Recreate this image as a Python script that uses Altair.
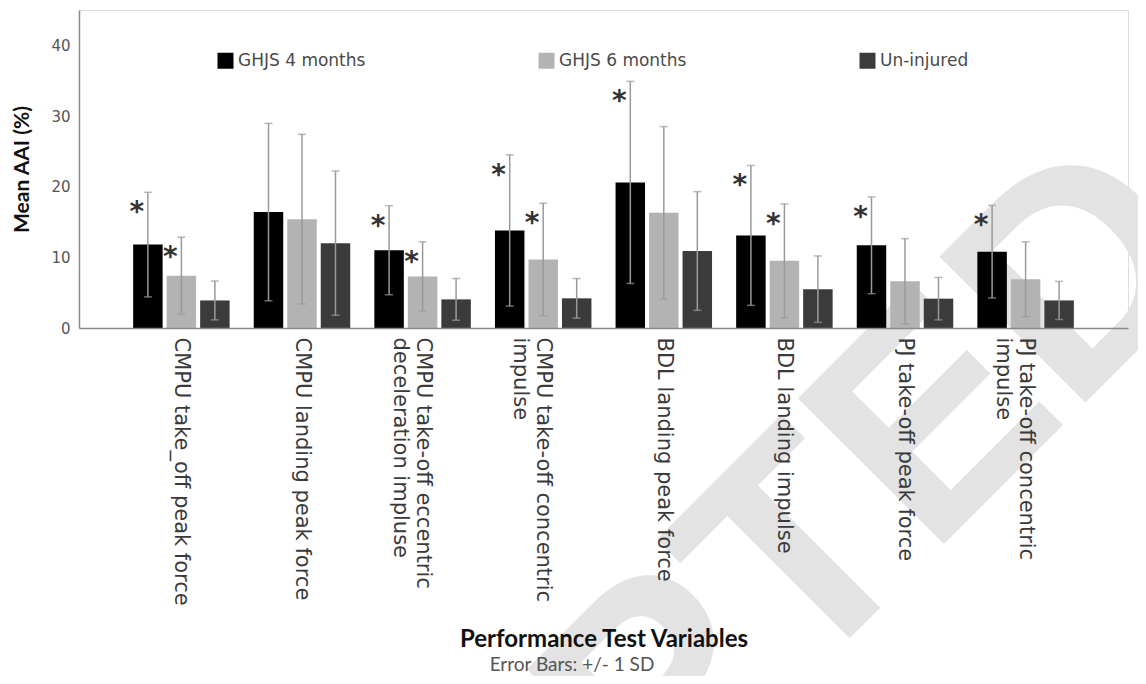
import altair as alt
import pandas as pd

categories = [
    "CMPU take_off peak force",
    "CMPU landing peak force",
    "CMPU take-off eccentric\ndeceleration impluse",
    "CMPU take-off concentric\nimpulse",
    "BDL landing peak force",
    "BDL landing impulse",
    "PJ take-off peak force",
    "PJ take-off concentric\nimpulse",
]
groups = ["GHJS 4 months", "GHJS 6 months", "Un-injured"]
colors = ["#000000", "#b3b3b3", "#3b3b3b"]

mean_4m = [11.8, 16.4, 11.0, 13.8, 20.6, 13.1, 11.7, 10.8]
sd_4m = [7.4, 12.55, 6.3, 10.7, 14.3, 9.9, 6.85, 6.55]
mean_6m = [7.4, 15.4, 7.3, 9.7, 16.3, 9.5, 6.6, 6.9]
sd_6m = [5.45, 12.0, 4.9, 7.95, 12.2, 8.05, 6.05, 5.3]
mean_un = [3.9, 12.0, 4.05, 4.2, 10.9, 5.5, 4.15, 3.9]
sd_un = [2.75, 10.2, 2.95, 2.8, 8.4, 4.7, 3.0, 2.7]

star_4m = [True, False, True, True, True, True, True, True]
star_6m = [True, False, True, True, False, True, False, False]
star_un = [False, False, False, False, False, False, False, False]

rows = []
for g, means, sds, stars in zip(groups, [mean_4m, mean_6m, mean_un],
                                [sd_4m, sd_6m, sd_un], [star_4m, star_6m, star_un]):
    for c, m, s, st in zip(categories, means, sds, stars):
        rows.append({"cat": c, "group": g, "mean": m, "lo": m - s, "hi": m + s,
                     "star": "*" if st else ""})
df = pd.DataFrame(rows)

x_enc = alt.X(
    "cat:N", sort=categories,
    scale=alt.Scale(paddingInner=0.2, paddingOuter=0.449),
    axis=alt.Axis(
        labelAngle=90, labelAlign="left", labelBaseline="middle", labelPadding=9,
        labelFont="DejaVu Sans", labelFontSize=21, labelColor="#3a3a3a",
        labelLimit=600, labelLineHeight=23, labelOverlap=False,
        labelExpr="split(datum.label, '\\n')",
        ticks=False, domainColor="#8a8a8a", domainWidth=1.5,
        title="Performance Test Variables", titleFont="Lato", titleFontSize=24,
        titleFontWeight="bold", titleColor="#111111", titleX=524.5, titleY=311,
        titleAlign="center", titleBaseline="middle", zindex=1,
    ),
)
xoff_enc = alt.XOffset("group:N", sort=groups,
                       scale=alt.Scale(paddingInner=0.12, paddingOuter=0))
y_scale = alt.Scale(domain=[0, 45], nice=False)
y_axis = alt.Axis(
    values=[0, 10, 20, 30, 40], grid=False, ticks=False, labelPadding=9,
    labelFont="DejaVu Sans", labelFontSize=15, labelColor="#555555",
    domainColor="#8a8a8a", domainWidth=1.5,
    title="Mean AAI (%)", titleFont="Lato", titleFontSize=21, titleFontWeight="bold",
    titleColor="#111111", titleX=-57, titleY=159, titleAngle=270,
    titleAlign="center", titleBaseline="middle", zindex=1,
)

base = alt.Chart(df)

bars = base.mark_bar().encode(
    x=x_enc, xOffset=xoff_enc,
    y=alt.Y("mean:Q", scale=y_scale, axis=y_axis),
    color=alt.Color(
        "group:N", sort=groups, scale=alt.Scale(domain=groups, range=colors),
        legend=alt.Legend(
            orient="none", legendX=138, legendY=42, direction="horizontal", title=None,
            symbolType="square", symbolSize=256, symbolStrokeWidth=0, symbolOpacity=1,
            labelFont="DejaVu Sans", labelFontSize=17, labelColor="#4a4a4a",
            labelOffset=4, columnPadding=172, labelLimit=300,
        ),
    ),
)

err_rule = base.mark_rule(color="#9a9a9a", strokeWidth=1.5).encode(
    x=x_enc, xOffset=xoff_enc, y=alt.Y("lo:Q", scale=y_scale), y2="hi:Q"
)
cap_hi = base.mark_tick(color="#9a9a9a", thickness=1.5, size=8).encode(
    x=x_enc, xOffset=xoff_enc, y=alt.Y("hi:Q", scale=y_scale)
)
cap_lo = base.mark_tick(color="#9a9a9a", thickness=1.5, size=8).encode(
    x=x_enc, xOffset=xoff_enc, y=alt.Y("lo:Q", scale=y_scale)
)
stars = base.transform_filter("datum.star != ''").mark_text(
    fontSize=28, font="DejaVu Sans", fontWeight="bold", color="#333333", dx=-11, dy=29,
    align="center", baseline="alphabetic",
).encode(x=x_enc, xOffset=xoff_enc, y=alt.Y("hi:Q", scale=y_scale), text="star:N")

watermark = alt.Chart(pd.DataFrame({"t": ["ACCEPTED"]})).mark_text(
    angle=315, fontSize=300, font="Liberation Sans", fontWeight="bold",
    color="#e3e3e3", align="center", baseline="alphabetic",
).encode(x=alt.value(562), y=alt.value(837), text="t:N")

subtitle = alt.Chart(pd.DataFrame({"t": ["Error Bars: +/- 1 SD"]})).mark_text(
    font="Lato", fontSize=19, color="#555555", align="center", baseline="middle",
).encode(x=alt.value(493), y=alt.value(655), text="t:N")

chart = alt.layer(watermark, bars, err_rule, cap_hi, cap_lo, stars, subtitle).properties(
    width=1049, height=318,
    autosize=alt.AutoSizeParams(type="none"),
    padding={"left": 71, "top": 2, "right": 10, "bottom": 348},
).configure_view(stroke=None).configure(background="white")

chart.save("out.html", embed_options={"renderer": "svg", "actions": False})
